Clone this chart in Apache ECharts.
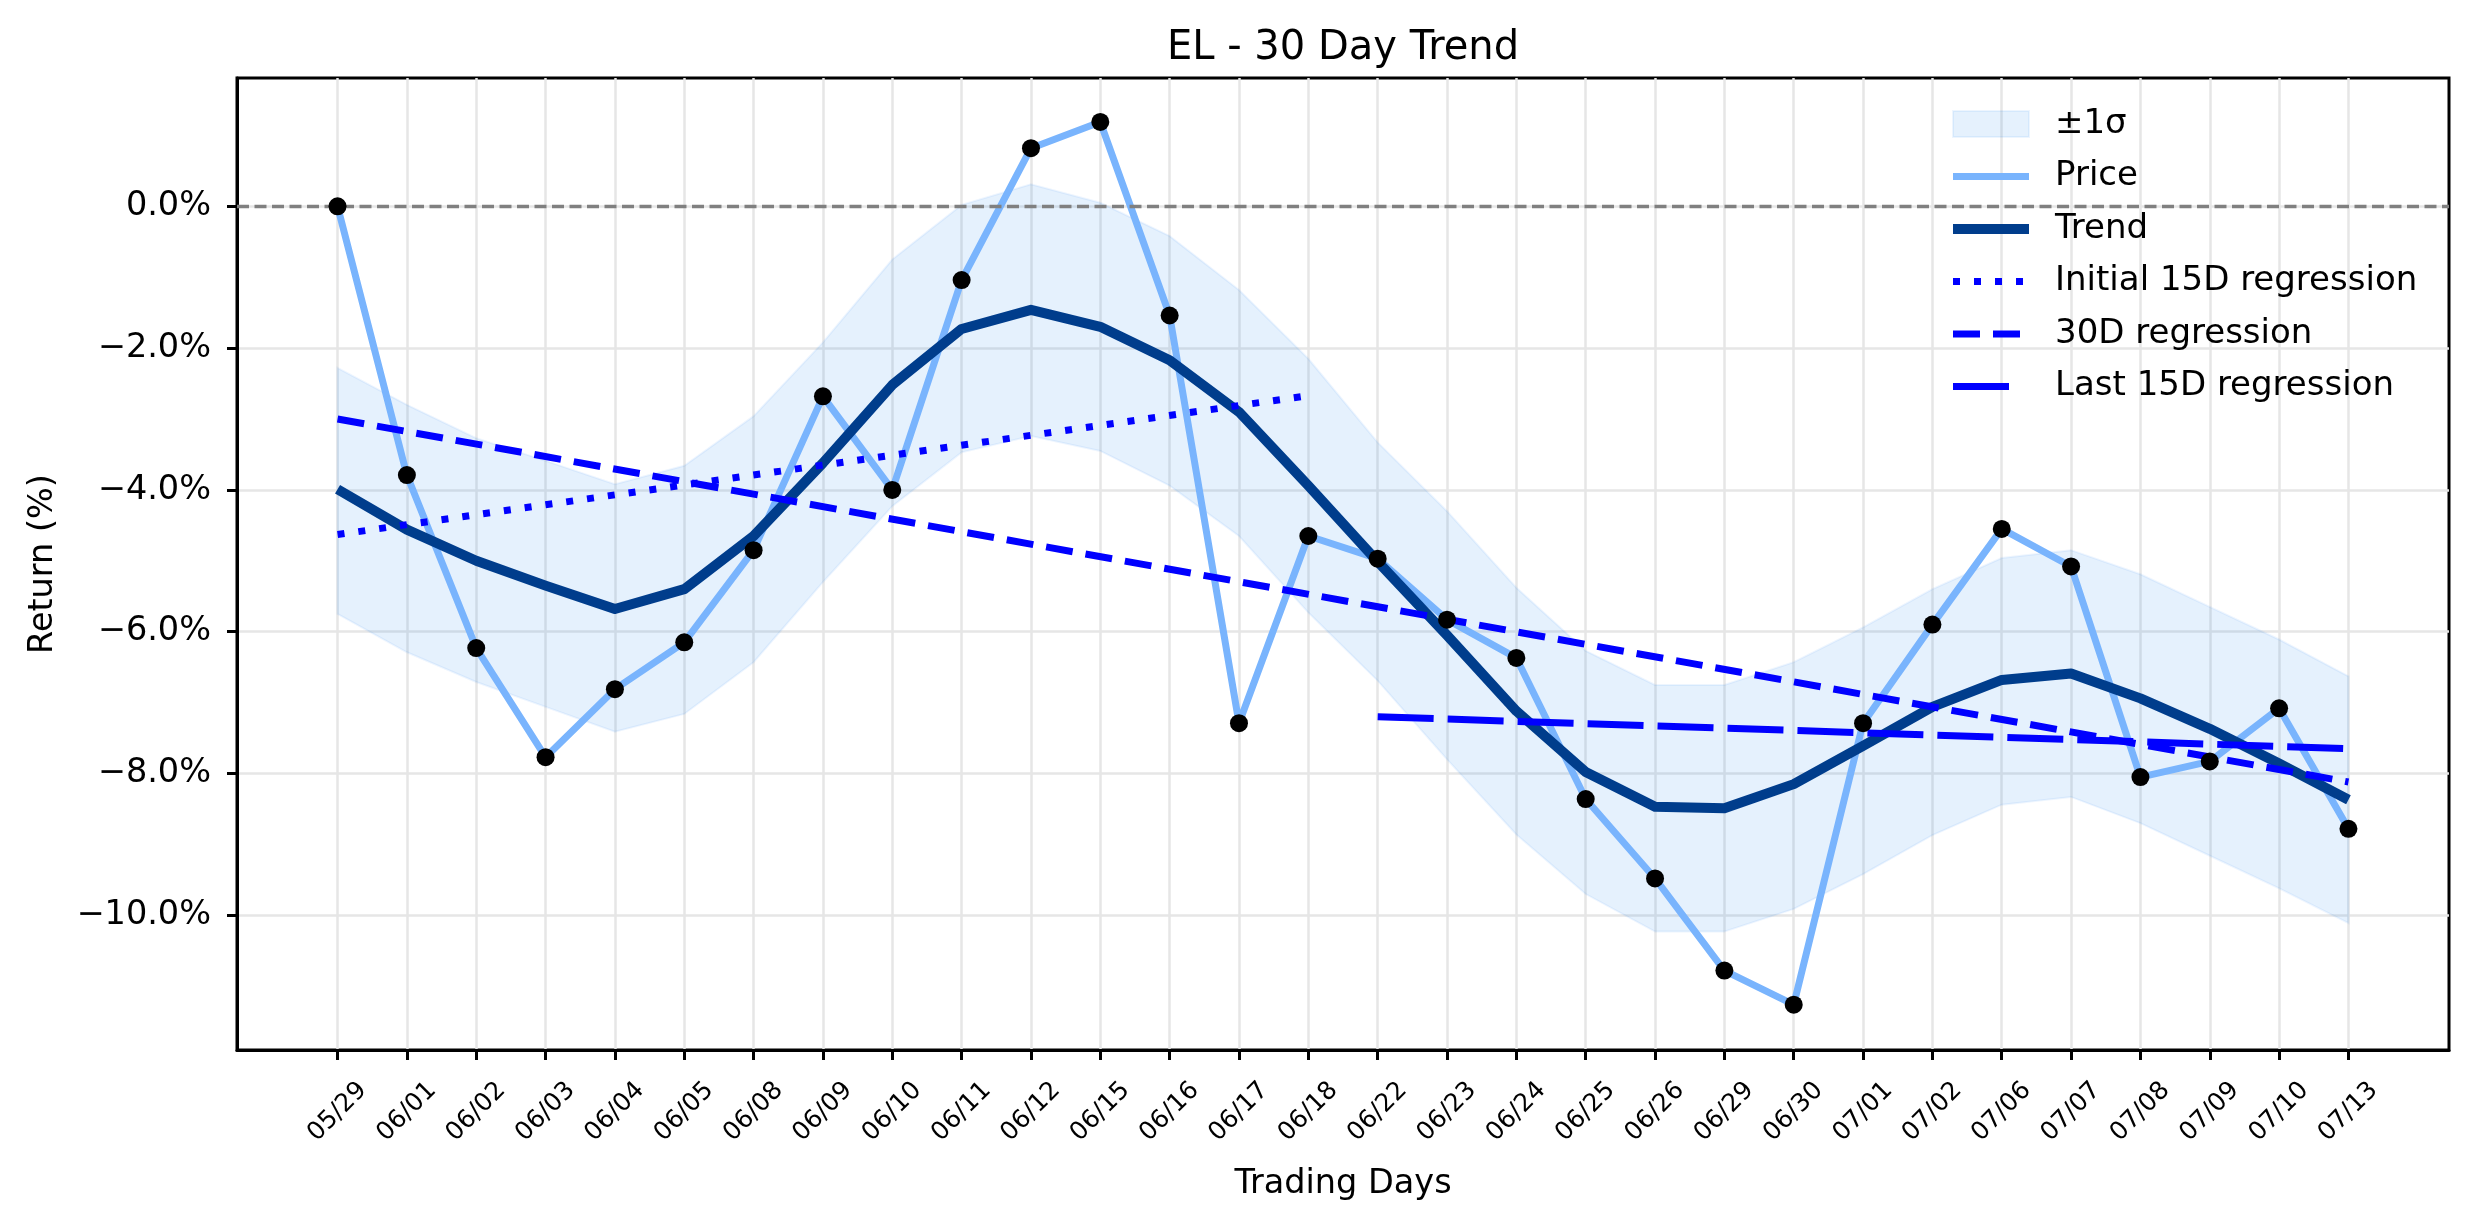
<!DOCTYPE html>
<html>
<head>
<meta charset="utf-8">
<title>EL - 30 Day Trend</title>
<script src="https://cdn.jsdelivr.net/npm/echarts@6/dist/echarts.min.js"></script>
<style>
	html, body { margin: 0; padding: 0; background: #fff; }
	#main_1 { width: 2474px; height: 1224px; }
</style>
</head>
<body>
<div id="main_1"></div>
<script>
//交易日
var days = ['05/29', '06/01', '06/02', '06/03', '06/04', '06/05', '06/08', '06/09', '06/10', '06/11',
	'06/12', '06/15', '06/16', '06/17', '06/18', '06/22', '06/23', '06/24', '06/25', '06/26',
	'06/29', '06/30', '07/01', '07/02', '07/06', '07/07', '07/08', '07/09', '07/10', '07/13'];
//收益率 (%)
var priceRet = [0.0, -3.79, -6.23, -7.77, -6.81, -6.15, -4.85, -2.68, -4.0, -1.04,
	0.82, 1.19, -1.54, -7.29, -4.65, -4.97, -5.83, -6.37, -8.36, -9.48,
	-10.78, -11.26, -7.29, -5.90, -4.55, -5.08, -8.05, -7.83, -7.08, -8.78];
var trendRet = [-3.99, -4.56, -5.0, -5.35, -5.68, -5.40, -4.65, -3.62, -2.52, -1.73,
	-1.46, -1.70, -2.17, -2.90, -3.94, -5.01, -6.05, -7.12, -7.98, -8.47,
	-8.49, -8.15, -7.61, -7.06, -6.68, -6.59, -6.94, -7.37, -7.86, -8.37];
//±1σ 上下沿
var bandUpper = [-2.28, -2.80, -3.27, -3.59, -3.92, -3.66, -2.96, -1.92, -0.75, 0.02,
	0.31, 0.05, -0.42, -1.18, -2.15, -3.33, -4.30, -5.38, -6.27, -6.75,
	-6.75, -6.43, -5.94, -5.40, -4.96, -4.85, -5.19, -5.65, -6.11, -6.63];
var bandLower = [-5.75, -6.29, -6.71, -7.06, -7.41, -7.16, -6.43, -5.30, -4.23, -3.47,
	-3.24, -3.45, -3.94, -4.65, -5.73, -6.69, -7.80, -8.86, -9.70, -10.23,
	-10.23, -9.91, -9.42, -8.87, -8.44, -8.33, -8.70, -9.16, -9.62, -10.11];
//回归线 (起止下标, 起止值)
var initRegIdx = [0, 14];
var initRegVal = [-4.63, -2.67];
var fullRegIdx = [0, 29];
var fullRegVal = [-3.0, -8.12];
var lastRegIdx = [15, 29];
var lastRegVal = [-7.2, -7.65];
//y轴刻度
var yTicks = [-10, -8, -6, -4, -2, 0];

var FONT = 'DejaVu Sans';
var BAND_FILL = 'rgba(0,120,240,0.1)';
var BAND_EDGE = 'rgba(0,120,240,0.07)';

function toPairs(idx, vals) {
	var out = [];
	for(var i = 0; i < idx.length; i++) {
		out.push([idx[i], vals[i]]);
	}
	return out;
}
var dayIdx = days.map(function(d, i) { return i; });

//图例里的线条不画圆点
var noDot = { opacity: 0 };

var myChart = echarts.init(document.getElementById('main_1'));
var option = {
	animation: false,
	backgroundColor: '#fff',
	title: {
		text: 'EL - 30 Day Trend',
		left: 1343,
		top: 29,
		textAlign: 'center',
		padding: 0,
		textStyle: { fontFamily: FONT, fontSize: 40, fontWeight: 'normal', color: '#000' }
	},
	legend: {
		orient: 'vertical',
		left: 1948,
		top: 104,
		padding: 0,
		itemWidth: 76,
		itemHeight: 26,
		itemGap: 12.5,
		textStyle: { fontFamily: FONT, fontSize: 34, color: '#000', lineHeight: 40, padding: [0, 0, 0, 21] },
		data: [
			{ name: '±1σ', icon: 'rect', itemStyle: { color: BAND_FILL, borderColor: BAND_EDGE, borderWidth: 2 } },
			{ name: 'Price', itemStyle: noDot, lineStyle: { width: 7 } },
			{ name: 'Trend', itemStyle: noDot, lineStyle: { width: 10 } },
			{ name: 'Initial 15D regression', itemStyle: noDot, lineStyle: { width: 7, type: [7, 14] } },
			{ name: '30D regression', itemStyle: noDot, lineStyle: { width: 7, type: [27, 13] } },
			{ name: 'Last 15D regression', itemStyle: noDot, lineStyle: { width: 7, type: [56, 30] } }
		]
	},
	grid: {
		left: 237,
		right: 25,
		top: 78,
		bottom: 174,
		show: true,
		borderColor: '#000',
		borderWidth: 3,
		backgroundColor: 'transparent'
	},
	xAxis: {
		type: 'value',
		min: -1.45,
		max: 30.45,
		name: 'Trading Days',
		nameLocation: 'middle',
		nameGap: 117,
		nameTextStyle: { fontFamily: FONT, fontSize: 33.5, color: '#000' },
		axisLine: { show: true, onZero: false, lineStyle: { color: '#000', width: 3 } },
		axisTick: { show: true, length: 10, customValues: dayIdx, lineStyle: { color: '#000', width: 3 } },
		axisLabel: {
			customValues: dayIdx,
			rotate: 45,
			align: 'center',
			verticalAlign: 'middle',
			margin: 62,
			fontFamily: FONT,
			fontSize: 25,
			color: '#000',
			formatter: function(v) { return days[Math.round(v)]; }
		},
		splitLine: { show: true, lineStyle: { color: '#e6e6e6', width: 2.5 } }
	},
	yAxis: {
		type: 'value',
		min: -11.9,
		max: 1.81,
		name: 'Return (%)',
		nameLocation: 'middle',
		nameGap: 177,
		nameTextStyle: { fontFamily: FONT, fontSize: 33.5, color: '#000' },
		axisLine: { show: true, onZero: false, lineStyle: { color: '#000', width: 3 } },
		axisTick: { show: true, length: 10, customValues: yTicks, lineStyle: { color: '#000', width: 3 } },
		axisLabel: {
			customValues: yTicks,
			margin: 26,
			fontFamily: FONT,
			fontSize: 33.5,
			color: '#000',
			formatter: function(v) {
				return (v < 0 ? '\u2212' : '') + Math.abs(v).toFixed(1) + '%';
			}
		},
		splitLine: { show: true, lineStyle: { color: '#e6e6e6', width: 2.5 } }
	},
	series: [
		{
			//±1σ 区域, 用坐标轴换算成多边形
			name: '±1σ',
			type: 'custom',
			silent: true,
			z: 1,
			itemStyle: { color: BAND_FILL },
			data: [[0, 0]],
			renderItem: function(params, api) {
				var pts = [];
				for(var i = 0; i < dayIdx.length; i++) {
					pts.push(api.coord([dayIdx[i], bandUpper[i]]));
				}
				for(var j = dayIdx.length - 1; j >= 0; j--) {
					pts.push(api.coord([dayIdx[j], bandLower[j]]));
				}
				return {
					type: 'polygon',
					shape: { points: pts },
					style: { fill: BAND_FILL, stroke: BAND_EDGE, lineWidth: 2 }
				};
			}
		},
		{
			name: 'Price',
			type: 'line',
			symbol: 'none',
			z: 3,
			itemStyle: { color: '#79b4fd' },
			lineStyle: { color: '#79b4fd', width: 7, join: 'round' },
			data: toPairs(dayIdx, priceRet),
			markLine: {
				silent: true,
				symbol: 'none',
				label: { show: false },
				lineStyle: { color: '#808080', type: [12, 5.5], width: 3.3 },
				data: [{ yAxis: 0 }]
			}
		},
		{
			name: 'Trend',
			type: 'line',
			symbol: 'none',
			z: 4,
			itemStyle: { color: '#003d8c' },
			lineStyle: { color: '#003d8c', width: 10, join: 'round' },
			data: toPairs(dayIdx, trendRet)
		},
		{
			name: 'Initial 15D regression',
			type: 'line',
			symbol: 'none',
			z: 5,
			itemStyle: { color: '#0000ff' },
			lineStyle: { color: '#0000ff', width: 7, type: [7, 14] },
			data: toPairs(initRegIdx, initRegVal)
		},
		{
			name: '30D regression',
			type: 'line',
			symbol: 'none',
			z: 5,
			itemStyle: { color: '#0000ff' },
			lineStyle: { color: '#0000ff', width: 7, type: [27, 13] },
			data: toPairs(fullRegIdx, fullRegVal)
		},
		{
			name: 'Last 15D regression',
			type: 'line',
			symbol: 'none',
			z: 5,
			itemStyle: { color: '#0000ff' },
			lineStyle: { color: '#0000ff', width: 7, type: [56, 14] },
			data: toPairs(lastRegIdx, lastRegVal)
		},
		{
			//价格点
			name: 'points',
			type: 'scatter',
			symbol: 'circle',
			symbolSize: 18,
			z: 10,
			silent: true,
			itemStyle: { color: '#000', opacity: 1 },
			data: toPairs(dayIdx, priceRet)
		}
	]
};
myChart.setOption(option);
</script>
</body>
</html>
